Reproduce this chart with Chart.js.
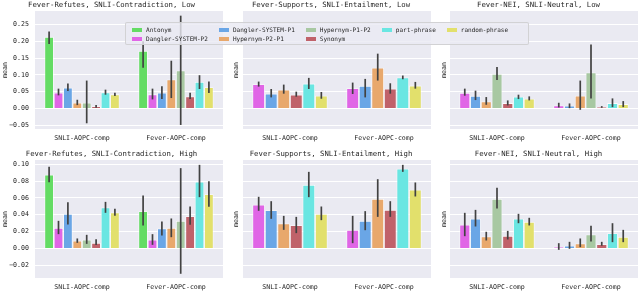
<!DOCTYPE html>
<html>
<head>
<meta charset="utf-8">
<script src="https://cdn.jsdelivr.net/npm/chart.js@4/dist/chart.umd.min.js"></script>
<style>
  html, body { margin: 0; padding: 0; background: #ffffff; }
  #wrap { position: relative; width: 640px; height: 292px; overflow: hidden; font-family: "DejaVu Sans Mono", monospace; }
  #wrap canvas { position: absolute; }
  #legend {
    position: absolute; left: 125px; top: 22px; width: 396px; height: 19px;
    background: rgba(234,234,242,0.8); border: 1px solid rgba(204,204,204,0.8); border-radius: 2px;
    display: flex; gap: 11px; padding: 2px 0 0 6px; box-sizing: content-box;
    font-family: "DejaVu Sans Mono", monospace; font-size: 6.05px; color: #262626;
  }
  #legend .col { display: flex; flex-direction: column; }
  #legend .item { height: 9px; line-height: 9px; display: flex; align-items: center; white-space: nowrap; }
  #legend .sw { display: inline-block; width: 10px; height: 4px; margin-right: 4px; }
</style>
</head>
<body>
<div id="wrap">
  <canvas id="p1" width="225" height="146" style="left:0px;top:0px"></canvas>
  <canvas id="p2" width="202" height="146" style="left:231px;top:0px"></canvas>
  <canvas id="p3" width="201" height="146" style="left:439px;top:0px"></canvas>
  <canvas id="p4" width="225" height="146" style="left:0px;top:146px"></canvas>
  <canvas id="p5" width="202" height="146" style="left:231px;top:146px"></canvas>
  <canvas id="p6" width="201" height="146" style="left:439px;top:146px"></canvas>
  <div id="legend"></div>
</div>
<script>
// ---------------- data ----------------
const categories = ["SNLI-AOPC-comp", "Fever-AOPC-comp"];
const seriesNames = ["Antonym", "Dangler-SYSTEM-P2", "Dangler-SYSTEM-P1", "Hypernym-P2-P1",
                     "Hypernym-P1-P2", "Synonym", "part-phrase", "random-phrase"];
const seriesColors = ["#64dc64", "#e066e6", "#6aa6e6", "#e8a86c", "#a8c8a2", "#c0626a", "#6ae6e2", "#e2e06c"];

// series (indices into seriesNames) present in each column of panels
const refutesSeries  = [0, 1, 2, 3, 4, 5, 6, 7];
const supportsSeries = [1, 2, 3, 5, 6, 7];
const neiSeries      = [1, 2, 3, 4, 5, 6, 7];

const lowTicks  = [-0.05, 0, 0.05, 0.10, 0.15, 0.20, 0.25];
const highTicks = [-0.02, 0, 0.02, 0.04, 0.06, 0.08, 0.10];

// each entry: [SNLI-AOPC-comp, Fever-AOPC-comp]
const refutesLowMean = [[0.213,0.171],[0.047,0.042],[0.062,0.047],[0.017,0.086],[0.017,0.113],[0.007,0.036],[0.048,0.079],[0.042,0.063]];
const refutesLowLo   = [[0.192,0.121],[0.039,0.027],[0.052,0.028],[0.010,0.031],[-0.044,-0.049],[0.002,0.028],[0.041,0.058],[0.037,0.046]];
const refutesLowHi   = [[0.229,0.200],[0.059,0.059],[0.074,0.066],[0.026,0.142],[0.083,0.276],[0.010,0.047],[0.056,0.099],[0.047,0.080]];

const supportsLowMean = [[0.072,0.060],[0.044,0.067],[0.056,0.121],[0.041,0.059],[0.074,0.092],[0.038,0.068]];
const supportsLowLo   = [[0.065,0.043],[0.033,0.033],[0.044,0.083],[0.035,0.044],[0.058,0.087],[0.029,0.059]];
const supportsLowHi   = [[0.080,0.077],[0.058,0.088],[0.071,0.163],[0.050,0.075],[0.091,0.098],[0.049,0.079]];

const neiLowMean = [[0.046,0.009],[0.037,0.008],[0.021,0.038],[0.103,0.107],[0.016,0.005],[0.035,0.016],[0.029,0.013]];
const neiLowLo   = [[0.038,0.003],[0.025,0.001],[0.011,-0.004],[0.085,0.030],[0.009,0.002],[0.028,0.004],[0.024,0.004]];
const neiLowHi   = [[0.059,0.017],[0.053,0.015],[0.034,0.083],[0.123,0.190],[0.024,0.007],[0.041,0.030],[0.036,0.022]];

const refutesHighMean = [[0.0874,0.0443],[0.0245,0.0103],[0.0411,0.0237],[0.0091,0.0245],[0.0103,0.0328],[0.0067,0.0383],[0.0486,0.0791],[0.0427,0.0644]];
const refutesHighLo   = [[0.0787,0.0273],[0.0170,0.0043],[0.0285,0.0154],[0.0067,0.0134],[0.0055,-0.0300],[0.0040,0.0281],[0.0423,0.0609],[0.0387,0.0494]];
const refutesHighHi   = [[0.0968,0.0628],[0.0328,0.0170],[0.0549,0.0320],[0.0119,0.0356],[0.0162,0.0953],[0.0111,0.0498],[0.0553,0.0992],[0.0470,0.0798]];

const supportsHighMean = [[0.0518,0.0221],[0.0455,0.0328],[0.0296,0.0589],[0.0277,0.0458],[0.0755,0.0945],[0.0411,0.0696]];
const supportsHighLo   = [[0.0447,0.0063],[0.0352,0.0217],[0.0221,0.0375],[0.0182,0.0375],[0.0609,0.0909],[0.0336,0.0617]];
const supportsHighHi   = [[0.0613,0.0387],[0.0561,0.0443],[0.0387,0.0822],[0.0375,0.0561],[0.0909,0.0992],[0.0498,0.0783]];

const neiHighMean = [[0.0281,0.0020],[0.0352,0.0032],[0.0142,0.0059],[0.0589,0.0166],[0.0150,0.0051],[0.0352,0.0182],[0.0316,0.0138]];
const neiHighLo   = [[0.0146,-0.0016],[0.0261,-0.0004],[0.0095,0.0016],[0.0474,0.0083],[0.0107,0.0032],[0.0300,0.0075],[0.0273,0.0075]];
const neiHighHi   = [[0.0423,0.0063],[0.0458,0.0079],[0.0198,0.0119],[0.0719,0.0269],[0.0209,0.0079],[0.0411,0.0300],[0.0364,0.0221]];

// ---------------- rendering ----------------
Chart.defaults.font.family = '"DejaVu Sans Mono", monospace';
Chart.defaults.color = '#262626';

const plotBg = {
  id: 'plotBg',
  beforeDraw(chart) {
    const { ctx, chartArea: a } = chart;
    ctx.save();
    ctx.fillStyle = '#EAEAF2';
    ctx.fillRect(a.left, a.top, a.right - a.left, a.bottom - a.top);
    ctx.restore();
  }
};

const errorBars = {
  id: 'errorBars',
  afterDatasetsDraw(chart) {
    const ctx = chart.ctx, ys = chart.scales.y;
    ctx.save();
    ctx.strokeStyle = '#424242';
    ctx.lineWidth = 1.7;
    chart.data.datasets.forEach((ds, i) => {
      const meta = chart.getDatasetMeta(i);
      meta.data.forEach((bar, j) => {
        ctx.beginPath();
        ctx.moveTo(bar.x, ys.getPixelForValue(ds.errLo[j]));
        ctx.lineTo(bar.x, ys.getPixelForValue(ds.errHi[j]));
        ctx.stroke();
      });
    });
    ctx.restore();
  }
};

function fmt(v) {
  const s = Math.abs(v).toFixed(2);
  return (v < -1e-9 ? '\u2212' : '') + s;
}

function makePanel(id, title, seriesIdx, mean, lo, hi, yMin, yMax, ticks, layoutOpt) {
  new Chart(document.getElementById(id), {
    type: 'bar',
    data: {
      labels: categories,
      datasets: seriesIdx.map((si, k) => ({
        label: seriesNames[si],
        data: mean[k],
        errLo: lo[k],
        errHi: hi[k],
        backgroundColor: seriesColors[si],
        borderColor: 'rgba(255,255,255,0.85)',
        borderWidth: 0.8,
        borderSkipped: 'start',
        categoryPercentage: 0.8,
        barPercentage: 1.0
      }))
    },
    options: {
      responsive: false,
      animation: false,
      devicePixelRatio: 1,
      layout: { padding: { top: layoutOpt.top, right: 2, left: 0, bottom: 0 } },
      plugins: {
        legend: { display: false },
        tooltip: { enabled: false },
        title: {
          display: true, text: title, color: '#262626',
          font: { size: 7.3, weight: 'normal' },
          padding: { top: 0.5, bottom: 1.7 }
        }
      },
      scales: {
        x: {
          grid: { display: false, drawTicks: false },
          border: { display: false },
          ticks: { color: '#262626', font: { size: 6.6 }, padding: 5, maxRotation: 0, autoSkip: false },
          afterFit(s) { s.height = layoutOpt.xH; }
        },
        y: {
          min: yMin, max: yMax,
          grid: { color: '#ffffff', lineWidth: 1, drawTicks: false },
          border: { display: false },
          ticks: { display: layoutOpt.showTicks, color: '#262626', font: { size: 6.6 }, padding: 6, callback: fmt },
          afterBuildTicks(s) { s.ticks = ticks.map(v => ({ value: v })); },
          title: { display: true, text: 'mean', color: '#262626', font: { size: 6.6 }, padding: { top: 1, bottom: 0 } },
          afterFit(s) { s.width = layoutOpt.yW; }
        }
      }
    },
    plugins: [plotBg, errorBars]
  });
}

const lowMin = -0.061, lowMax = 0.29, highMin = -0.035, highMax = 0.105;

makePanel('p1', 'Fever-Refutes, SNLI-Contradiction, Low', refutesSeries, refutesLowMean, refutesLowLo, refutesLowHi,
  lowMin, lowMax, lowTicks, { top: 0, xH: 17, yW: 35, showTicks: true });
makePanel('p2', 'Fever-Supports, SNLI-Entailment, Low', supportsSeries, supportsLowMean, supportsLowLo, supportsLowHi,
  lowMin, lowMax, lowTicks, { top: 0, xH: 17, yW: 12, showTicks: false });
makePanel('p3', 'Fever-NEI, SNLI-Neutral, Low', neiSeries, neiLowMean, neiLowLo, neiLowHi,
  lowMin, lowMax, lowTicks, { top: 0, xH: 17, yW: 11, showTicks: false });
makePanel('p4', 'Fever-Refutes, SNLI-Contradiction, High', refutesSeries, refutesHighMean, refutesHighLo, refutesHighHi,
  highMin, highMax, highTicks, { top: 3, xH: 14, yW: 35, showTicks: true });
makePanel('p5', 'Fever-Supports, SNLI-Entailment, High', supportsSeries, supportsHighMean, supportsHighLo, supportsHighHi,
  highMin, highMax, highTicks, { top: 3, xH: 14, yW: 12, showTicks: false });
makePanel('p6', 'Fever-NEI, SNLI-Neutral, High', neiSeries, neiHighMean, neiHighLo, neiHighHi,
  highMin, highMax, highTicks, { top: 3, xH: 14, yW: 11, showTicks: false });

// legend: 5 columns, filled column-major (matplotlib style)
(function buildLegend() {
  const ncol = 5, n = seriesNames.length;
  const base = Math.floor(n / ncol), extra = n % ncol;
  const leg = document.getElementById('legend');
  let idx = 0;
  for (let c = 0; c < ncol; c++) {
    const cnt = base + (c < extra ? 1 : 0);
    const col = document.createElement('div');
    col.className = 'col';
    for (let r = 0; r < cnt; r++, idx++) {
      const item = document.createElement('div');
      item.className = 'item';
      const sw = document.createElement('span');
      sw.className = 'sw';
      sw.style.background = seriesColors[idx];
      item.appendChild(sw);
      item.appendChild(document.createTextNode(seriesNames[idx]));
      col.appendChild(item);
    }
    leg.appendChild(col);
  }
})();
</script>
</body>
</html>
